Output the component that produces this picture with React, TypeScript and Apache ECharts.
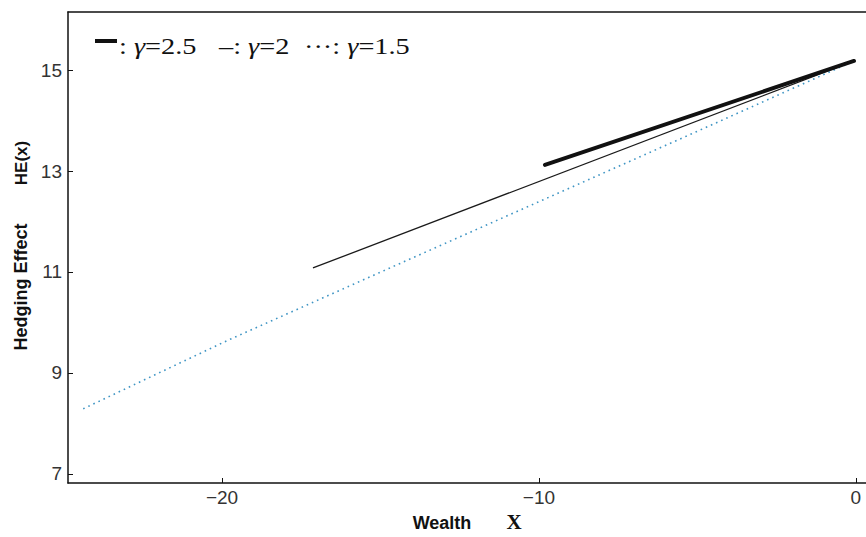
import React, { useEffect, useRef } from "react";
import * as echarts from "echarts";

const xTicks = [-20, -10, 0];
const yTicks = [7, 9, 11, 13, 15];
const gamma25: [number, number][] = [[-9.81, 13.12], [-0.06, 15.18]];
const gamma2: [number, number][] = [[-17.13, 11.08], [-0.06, 15.18]];
const gamma15: [number, number][] = [
  [-24.38, 8.29],
  [-19.84, 9.64],
  [-14.38, 11.17],
  [-4.92, 13.81],
  [-0.06, 15.18],
];
const legendItems = [
  { mark: "", label: "2.5" },
  { mark: "\u2013", label: "2" },
  { mark: "\u00b7\u00b7\u00b7", label: "1.5" },
];

const fmt = (v: number) => (v < 0 ? "\u2212" + Math.abs(v) : String(v));

export default function App() {
  const ref = useRef<HTMLDivElement>(null);
  useEffect(() => {
    if (!ref.current) return;
    const chart = echarts.init(ref.current, null, { renderer: "svg" });
    const axisLine = { show: true, lineStyle: { color: "#111", width: 1.5 } };
    const legendX = [119, 219, 304];
    const legendGraphics = legendItems.map((it, i) => ({
      type: "text",
      x: legendX[i],
      y: 46,
      scaleX: 1.18,
      style: {
        text: `{n|${it.mark}: }{i|\u03b3}{n|=${it.label}}`,
        verticalAlign: "middle",
        rich: {
          n: { fontFamily: "Liberation Serif", fontSize: 24, fill: "#111" },
          i: { fontFamily: "Liberation Serif", fontSize: 24, fontStyle: "italic", fill: "#111" },
        },
      },
    }));
    chart.setOption({
      animation: false,
      backgroundColor: "#fff",
      grid: { left: 68, right: 0, top: 12, bottom: 54 },
      xAxis: [
        {
          type: "value",
          min: -24.86,
          max: 0.32,
          axisLine: { ...axisLine, onZero: false },
          splitLine: { show: false },
          axisTick: { show: true, inside: true, length: 5, customValues: xTicks, lineStyle: { color: "#111" } },
          axisLabel: {
            customValues: xTicks,
            formatter: fmt,
            fontFamily: "Liberation Sans, Arial",
            fontSize: 19,
            color: "#333",
            margin: 5,
          },
        },
        {
          type: "value",
          position: "top",
          min: -24.86,
          max: 0.32,
          axisLine: { ...axisLine, onZero: false },
          splitLine: { show: false },
          axisTick: { show: false },
          axisLabel: { show: false },
        },
      ],
      yAxis: {
        type: "value",
        min: 6.82,
        max: 16.15,
        axisLine: { ...axisLine, onZero: false },
        splitLine: { show: false },
        axisTick: { show: true, inside: true, length: 5, customValues: yTicks, lineStyle: { color: "#111" } },
        axisLabel: {
          customValues: yTicks,
          fontFamily: "Liberation Sans, Arial",
          fontSize: 19,
          color: "#333",
          margin: 6,
        },
      },
      graphic: [
        {
          type: "text",
          x: 21,
          y: 287,
          rotation: Math.PI / 2,
          style: {
            text: "Hedging Effect",
            font: "bold 18px 'Liberation Sans', Arial",
            fill: "#111",
            align: "center",
            verticalAlign: "middle",
          },
        },
        {
          type: "text",
          x: 21,
          y: 163,
          rotation: Math.PI / 2,
          style: {
            text: "HE(x)",
            font: "bold 17px 'Liberation Sans', Arial",
            fill: "#111",
            align: "center",
            verticalAlign: "middle",
          },
        },
        {
          type: "text",
          x: 442,
          y: 523,
          style: {
            text: "Wealth",
            font: "bold 18px 'Liberation Sans', Arial",
            fill: "#111",
            align: "center",
            verticalAlign: "middle",
          },
        },
        {
          type: "text",
          x: 514,
          y: 522,
          style: {
            text: "X",
            font: "bold 21px 'Liberation Serif', 'Times New Roman'",
            fill: "#111",
            align: "center",
            verticalAlign: "middle",
          },
        },
        {
          type: "rect",
          shape: { x: 95, y: 39, width: 22, height: 4 },
          style: { fill: "#111" },
        },
        ...legendGraphics,
      ],
      series: [
        {
          name: "gamma=1.5",
          type: "line",
          data: gamma15,
          showSymbol: false,
          lineStyle: { color: "#3f95c4", width: 1.6, type: [1.6, 4] },
        },
        {
          name: "gamma=2",
          type: "line",
          data: gamma2,
          showSymbol: false,
          lineStyle: { color: "#1a1a1a", width: 1.3 },
        },
        {
          name: "gamma=2.5",
          type: "line",
          data: gamma25,
          showSymbol: false,
          lineStyle: { color: "#111", width: 4, cap: "round" },
        },
      ],
    });
    return () => chart.dispose();
  }, []);
  return (
    <div
      ref={ref}
      style={{ position: "fixed", left: 0, top: 0, width: 866, height: 537 }}
    />
  );
}
